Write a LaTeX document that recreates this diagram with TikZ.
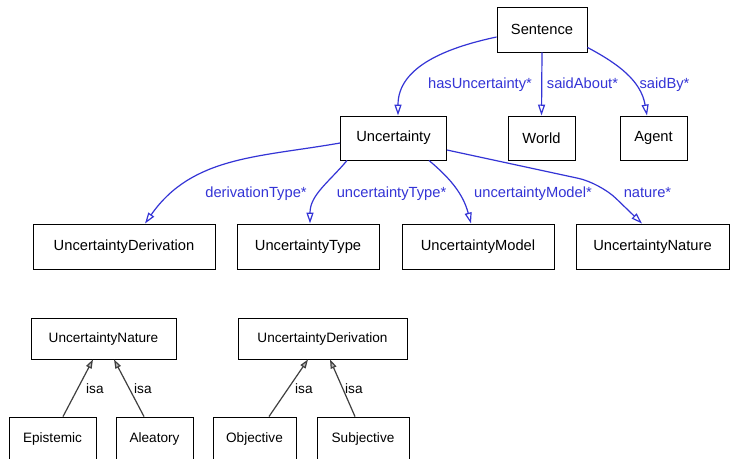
\documentclass[tikz,border=0pt]{standalone}
\usepackage{fontspec}
\setmainfont{Liberation Sans}
\usetikzlibrary{arrows.meta}
\definecolor{relblue}{RGB}{52,52,214}
\definecolor{isagray}{RGB}{64,64,64}
\begin{document}
\begin{tikzpicture}[x=1pt,y=-1pt,
  cls/.style={draw=black,line width=0.9pt,fill=white,inner sep=0pt,
    font=\fontsize{14.7}{17}\selectfont},
  subcls/.style={cls,font=\fontsize{13.6}{16}\selectfont},
  rel/.style={draw=relblue,line width=1.2pt,
    -{Triangle[open,length=11pt,width=7pt]}},
  isa/.style={draw=isagray,line width=1.2pt,
    -{Triangle[length=9pt,width=6pt,fill=gray!55]}},
  rellbl/.style={text=relblue,anchor=base,inner sep=0pt,
    font=\fontsize{14.7}{17}\selectfont},
  isalbl/.style={text=black,anchor=base west,inner sep=0pt,
    font=\fontsize{13.6}{16}\selectfont}]
\useasboundingbox (0,0) rectangle (731,458);
\fill[white] (0,0) rectangle (731,458);

% class graph
\node[cls,minimum width=90pt,minimum height=45pt]  (sent)  at (542,29.5)  {Sentence};
\node[cls,minimum width=106pt,minimum height=44pt] (unc)   at (393.5,138) {Uncertainty};
\node[cls,minimum width=67pt,minimum height=44pt]  (world) at (541.5,138) {World};
\node[cls,minimum width=67pt,minimum height=44pt]  (agent) at (653.5,138) {Agent};
\node[cls,minimum width=182pt,minimum height=45pt] (uder)  at (124,246.5) {UncertaintyDerivation};
\node[cls,minimum width=142pt,minimum height=45pt] (utype) at (308,246.5) {UncertaintyType};
\node[cls,minimum width=152pt,minimum height=45pt] (umod)  at (478,246.5) {UncertaintyModel};
\node[cls,minimum width=153pt,minimum height=45pt] (unat)  at (652.5,246.5) {UncertaintyNature};

% relations
\draw[rel] ([yshift=-7.5pt]sent.west) to[out=192,in=90] ([xshift=4.5pt]unc.north);
\draw[rel] (sent.south) -- (world.north);
\draw[rel] ([yshift=5pt]sent.south east) to[out=-28,in=100] ([xshift=-6.5pt]agent.north);
\draw[rel] ([yshift=-5pt]unc.west) to[out=190,in=55] ([xshift=21pt]uder.north);
\draw[rel] ([xshift=7pt]unc.south west) to[out=230,in=90] ([xshift=2pt]utype.north);
\draw[rel] ([xshift=-18pt]unc.south east) to[out=-40,in=105] ([xshift=-7pt]umod.north);
\coordinate (nbend) at (600,183);
\draw[rel,rounded corners=22pt] ([yshift=-12pt]unc.east) -- (nbend) -- ([xshift=-10.5pt]unat.north);

\node[rellbl] (l1) at (480,88.5) {hasUncertainty*};
\node[rellbl] (l2) at (582.5,88.5) {saidAbout*};
\node[rellbl] (l3) at (664.5,88.5) {saidBy*};
\node[rellbl] (l4) at (256,197) {derivationType*};
\node[rellbl] (l5) at (391.5,197) {uncertaintyType*};
\node[rellbl] (l6) at (533,197) {uncertaintyModel*};
\node[rellbl] (l7) at (647.5,197) {nature*};

% subclass hierarchies
\node[subcls,minimum width=145pt,minimum height=41pt] (snat) at (103.5,338.5) {UncertaintyNature};
\node[subcls,minimum width=169pt,minimum height=41pt] (sder) at (322.5,338.5) {UncertaintyDerivation};
\node[subcls,minimum width=87pt,minimum height=44pt] (epi)  at (52.5,439) {Epistemic};
\node[subcls,minimum width=77pt,minimum height=44pt] (ale)  at (154.5,439) {Aleatory};
\node[subcls,minimum width=83pt,minimum height=44pt] (obj)  at (254.5,439) {Objective};
\node[subcls,minimum width=92pt,minimum height=44pt] (subj) at (363,439) {Subjective};

\draw[isa] ([xshift=10.5pt]epi.north) -- ([xshift=-10.5pt]snat.south);
\draw[isa] ([xshift=-10.5pt]ale.north) -- ([xshift=10.5pt]snat.south);
\draw[isa] ([xshift=14.5pt]obj.north) -- ([xshift=-14.5pt]sder.south);
\draw[isa] ([xshift=-8pt]subj.north) -- ([xshift=7.5pt]sder.south);

\node[isalbl] (i1) at (86,393) {isa};
\node[isalbl] (i2) at (134,393) {isa};
\node[isalbl] (i3) at (295,393) {isa};
\node[isalbl] (i4) at (345,393) {isa};
\end{tikzpicture}
\end{document}
